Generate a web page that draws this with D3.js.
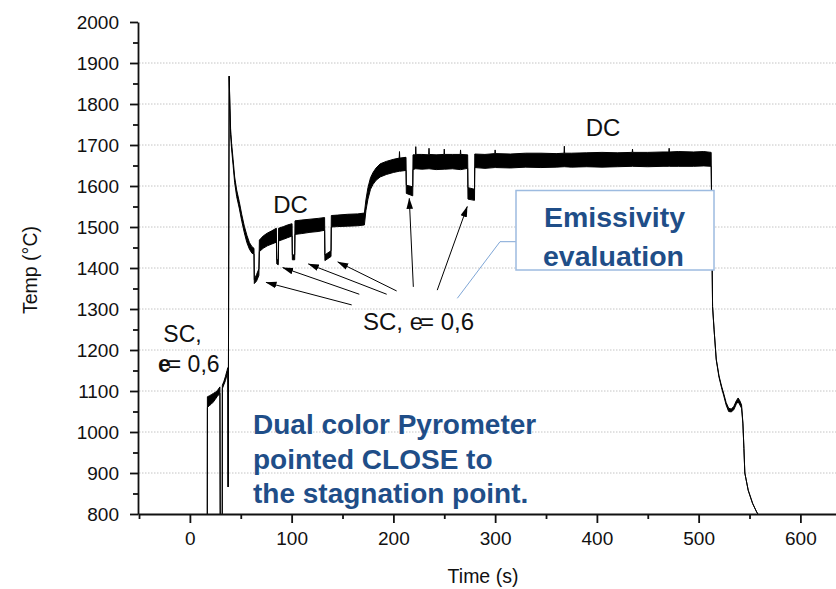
<!DOCTYPE html>
<html>
<head>
<meta charset="utf-8">
<script src="https://cdn.jsdelivr.net/npm/d3@7"></script>
<style>
  html, body { margin: 0; padding: 0; background: #fff; }
  svg { display: block; font-family: "Liberation Sans", Arial, sans-serif; }
</style>
</head>
<body>
<svg id="chart" width="836" height="589"></svg>
<script>
// ---------- data ----------
const time = [17.1,17.2,19,21,23,25,27,29.5,29.8,31.8,31.9,33.5,35,36.5,37.3,37.6,38.6,39.3,40,41,42.5,44,46,48.5,51,53.5,56,58.5,61,63,
  63.3,65.5,67.8,68.3,72,76,80,85,85.4,86.9,87.2,92,96,100.4,100.7,103,103.3,110,118,126,132.4,132.7,138.7,139,145,155,165,171.5,
  173,175,177.5,180,183,187,193,200,205.7,206,206.3,212.4,212.7,219,219.3,221.7,222,222.3,228,234.7,235,235.3,242,249.7,250,250.3,258,
  265.7,266,266.3,273,273.3,279.7,280,290,299.7,300,300.3,315,330,345,360,367.7,368,368.3,375,390,405,420,434.7,435,435.3,450,465,
  470.7,471,471.3,480,495,505,512.3,512.6,513.1,513.7,515.2,517.3,520,522.5,524.5,527,529.5,532,534.5,537,538.8,
  540.5,542.2,543.5,544.5,545.4,548.7,553,557,559.5];
const tempLow = [795,1060,1064,1068,1073,1080,1087,1094,795,795,1106,1116,1126,1140,1148,866,1868,1790,1725,1690,1650,1608,1574,1546,1514,1486,1462,1446,1436,1434,
  1362,1368,1382,1440,1448,1454,1458,1463,1410,1408,1466,1470,1474,1478,1420,1420,1482,1484,1487,1489,1492,1418,1428,1500,1501,1502,1503,1505,
  1540,1568,1592,1604,1614,1622,1628,1633,1636,1636,1636,1638,1582,1576,1640,1642,1642,1642,1641,1642,1642,1642,1640,1641,1641,1641,1642,
  1640,1640,1640,1643,1568,1565,1645,1643,1645,1645,1645,1644,1646,1645,1646,1647,1647,1647,1646,1647,1646,1647,1648,1648,1648,1647,1648,
  1648,1648,1648,1648,1648,1649,1648,1590,1444,1306,1249,1176,1134,1108,1090,1066,1050,1049,1054,1068,1074,
  1066,1058,1020,960,900,858,826,805,795];
const tempHigh = [795,1086,1088,1091,1094,1097,1101,1110,795,795,1114,1124,1136,1150,1157,866,1868,1800,1740,1704,1664,1622,1590,1562,1530,1502,1480,1462,1452,1448,
  1372,1384,1398,1468,1478,1485,1490,1497,1420,1420,1497,1501,1505,1508,1432,1432,1515,1517,1519,1521,1523,1432,1442,1528,1529,1531,1532,1534,
  1566,1596,1620,1633,1644,1654,1660,1665,1668,1684,1668,1670,1602,1598,1676,1676,1696,1677,1677,1676,1692,1677,1676,1677,1690,1677,1677,
  1677,1688,1677,1676,1596,1592,1678,1677,1679,1688,1679,1678,1680,1680,1679,1680,1697,1680,1680,1681,1682,1681,1682,1690,1682,1682,1683,
  1683,1692,1683,1684,1683,1684,1682,1590,1444,1306,1249,1178,1137,1112,1095,1072,1058,1056,1062,1076,1083,
  1076,1066,1022,960,900,858,826,805,795];

const xMajorTicks = [0,100,200,300,400,500,600];
const xMinorTicks = [-50,50,150,250,350,450,550];
const yMajorTicks = [800,900,1000,1100,1200,1300,1400,1500,1600,1700,1800,1900,2000];
const yMinorTicks = [850,950,1050,1150,1250,1350,1450,1550,1650,1750,1850,1950];
const gridValues = [900,1000,1100,1200,1300,1400,1500,1600,1700,1800,1900];

// arrows: [time, temp] of each tail and head
const arrowTail = [[159,1310],[166.5,1336],[193.4,1336],[203.2,1344],[219.6,1354],[243.1,1346]];
const arrowHead = [[74.8,1365],[91.2,1401],[116.4,1410],[145.3,1415],[215.6,1570],[272.6,1550]];

// ---------- layout ----------
const svg = d3.select("#chart");
const x = d3.scaleLinear().domain([-51, 635]).range([138, 836]);
const y = d3.scaleLinear().domain([800, 2000]).range([514, 22]);
const blue = "#1f4e88";

// grid
svg.append("g").selectAll("line").data(gridValues).join("line")
  .attr("x1", 139).attr("x2", 836)
  .attr("y1", d => y(d)).attr("y2", d => y(d))
  .attr("stroke", "#c4c4c4").attr("stroke-width", 1).attr("stroke-dasharray", "1.5,1.5");

// clip
svg.append("clipPath").attr("id", "plotclip").append("rect")
  .attr("x", 138).attr("y", 20).attr("width", 698).attr("height", 494);

const pts = time.map((t, i) => ({t, lo: tempLow[i], hi: tempHigh[i]}));
const area = d3.area().x(d => x(d.t)).y0(d => y(d.lo)).y1(d => y(d.hi));
svg.append("path").datum(pts)
  .attr("clip-path", "url(#plotclip)")
  .attr("d", area)
  .attr("fill", "#000").attr("stroke", "#000").attr("stroke-width", 1)
  .attr("stroke-linejoin", "round");

// axes
const axisStyle = g => {
  g.selectAll("path, line").attr("stroke", "#111").attr("stroke-width", 1.8);
  g.selectAll("text").attr("font-size", 19).attr("fill", "#111")
    .attr("font-family", "'Liberation Sans', Arial, sans-serif");
};
svg.append("g").attr("transform", "translate(0,514)")
  .call(d3.axisBottom(x).tickValues(xMinorTicks).tickSize(5).tickFormat("").tickSizeOuter(0))
  .call(g => g.select(".domain").remove())
  .call(axisStyle);
svg.append("g").attr("transform", "translate(138,0)")
  .call(d3.axisLeft(y).tickValues(yMinorTicks).tickSize(5).tickFormat("").tickSizeOuter(0))
  .call(g => g.select(".domain").remove())
  .call(axisStyle);
svg.append("g").attr("transform", "translate(0,514)")
  .call(d3.axisBottom(x).tickValues(xMajorTicks).tickSize(9).tickPadding(9).tickSizeOuter(0).tickFormat(d3.format("d")))
  .call(axisStyle);
svg.append("g").attr("transform", "translate(138,0)")
  .call(d3.axisLeft(y).tickValues(yMajorTicks).tickSize(8).tickPadding(11).tickSizeOuter(0).tickFormat(d3.format("d")))
  .call(axisStyle);

// axis titles
svg.append("text").attr("x", 483).attr("y", 583).attr("text-anchor", "middle")
  .attr("font-size", 19.5).attr("fill", "#111").text("Time (s)");
svg.append("text").attr("transform", "translate(37,270) rotate(-90)").attr("text-anchor", "middle")
  .attr("font-size", 19.5).attr("fill", "#111").text("Temp (°C)");

// arrows
const defs = svg.append("defs");
defs.append("marker").attr("id", "ah").attr("viewBox", "0 -4 11 8")
  .attr("refX", 10.5).attr("refY", 0).attr("markerWidth", 11).attr("markerHeight", 8)
  .attr("markerUnits", "userSpaceOnUse").attr("orient", "auto")
  .append("path").attr("d", "M0,-3.3L11,0L0,3.3Z").attr("fill", "#000");
svg.append("g").selectAll("line").data(arrowTail).join("line")
  .attr("x1", d => x(d[0])).attr("y1", d => y(d[1]))
  .attr("x2", (d, i) => x(arrowHead[i][0])).attr("y2", (d, i) => y(arrowHead[i][1]))
  .attr("stroke", "#000").attr("stroke-width", 1).attr("marker-end", "url(#ah)");

// text annotations
const lbl = (xx, yy, txt, size, anchor) => svg.append("text").attr("x", xx).attr("y", yy)
  .attr("font-size", size).attr("text-anchor", anchor || "middle").attr("fill", "#111").text(txt);
lbl(290.5, 212.5, "DC", 24);
lbl(603, 136, "DC", 24);
lbl(182.5, 341.5, "SC,", 23);
const e1 = svg.append("text").attr("x", 158).attr("y", 371.5).attr("font-size", 23).attr("fill", "#111");
e1.append("tspan").attr("font-weight", "bold").text("e");
e1.append("tspan").attr("dx", -3).text("= 0,6");
const e2 = svg.append("text").attr("x", 363).attr("y", 330).attr("font-size", 24).attr("fill", "#111");
e2.append("tspan").text("SC, e");
e2.append("tspan").attr("dx", -3).text("= 0,6");

// blue note
const note = svg.append("text").attr("font-size", 28).attr("font-weight", "bold").attr("fill", blue);
[["Dual color Pyrometer", 433.5], ["pointed CLOSE to", 468.5], ["the stagnation point.", 503]]
  .forEach(([t, yy]) => note.append("tspan").attr("x", 253).attr("y", yy).text(t));

// emissivity callout
svg.append("polyline").attr("points", "516,241.7 500,241.7 457.3,298.3")
  .attr("fill", "none").attr("stroke", "#7fa6d6").attr("stroke-width", 1);
svg.append("rect").attr("x", 516).attr("y", 190.5).attr("width", 198).attr("height", 79.5)
  .attr("fill", "#fff").attr("stroke", "#9dbbe0").attr("stroke-width", 1.5);
const em = svg.append("text").attr("font-size", 28.5).attr("font-weight", "bold").attr("fill", blue).attr("text-anchor", "middle");
em.append("tspan").attr("x", 614.5).attr("y", 226.5).text("Emissivity");
em.append("tspan").attr("x", 613.5).attr("y", 265.5).text("evaluation");
</script>
</body>
</html>
